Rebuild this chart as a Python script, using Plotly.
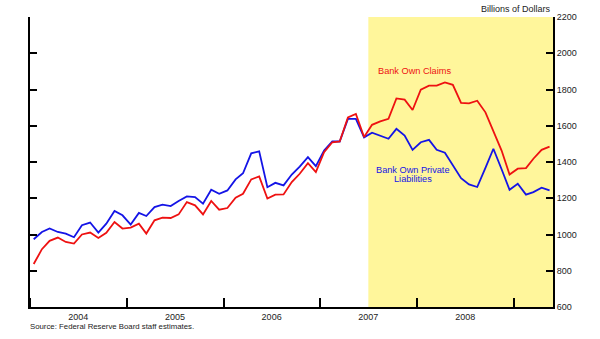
import pandas as pd
import plotly.graph_objects as go

# Monthly observations, Jan 2004 - May 2009 (billions of dollars)
start_month = "2004-01-01"
n_months = 65

bank_own_claims = [
    837, 919, 965, 983, 959, 950, 1000, 1011, 981, 1009, 1069, 1033,
    1038, 1060, 1005, 1078, 1093, 1091, 1111, 1179, 1161, 1111, 1185, 1137,
    1146, 1203, 1225, 1304, 1320, 1198, 1220, 1221, 1289, 1335, 1393, 1344,
    1454, 1509, 1513, 1646, 1665, 1538, 1605, 1624, 1638, 1751, 1744, 1687,
    1799, 1821, 1821, 1839, 1826, 1726, 1723, 1738, 1674, 1573, 1463, 1331,
    1363, 1366, 1418, 1467, 1485,
]

bank_own_private_liabilities = [
    974, 1014, 1033, 1014, 1005, 985, 1051, 1066, 1011, 1060, 1130, 1106,
    1055, 1119, 1102, 1151, 1165, 1157, 1185, 1210, 1206, 1170, 1247, 1225,
    1243, 1304, 1338, 1448, 1459, 1261, 1285, 1271, 1331, 1375, 1427, 1377,
    1463, 1513, 1513, 1638, 1638, 1536, 1562, 1546, 1528, 1583, 1546, 1467,
    1509, 1522, 1467, 1451, 1380, 1311, 1276, 1262, 1368, 1473, 1360, 1247,
    1280, 1220, 1234, 1258, 1243,
]

year_labels = ["2004", "2005", "2006", "2007", "2008"]
year_boundaries = ["2004-01-01", "2005-01-01", "2006-01-01", "2007-01-01",
                   "2008-01-01", "2009-01-01"]
year_midpoints = ["2004-07-01", "2005-07-01", "2006-07-01", "2007-07-01", "2008-07-01"]

y_ticks = [600, 800, 1000, 1200, 1400, 1600, 1800, 2000, 2200]

shade_start = "2007-07-01"
x_range = ["2004-01-01", "2009-05-28"]
y_range = [600, 2200]

dates = pd.date_range(start_month, periods=n_months, freq="MS") + pd.Timedelta(days=14)

RED = "#EE1111"
BLUE = "#1414E6"
FONT = "Liberation Sans, Arial, sans-serif"

fig = go.Figure()
fig.add_trace(go.Scatter(x=dates, y=bank_own_private_liabilities, mode="lines",
                         line=dict(color=BLUE, width=1.8), name="Bank Own Private Liabilities",
                         showlegend=False))
fig.add_trace(go.Scatter(x=dates, y=bank_own_claims, mode="lines",
                         line=dict(color=RED, width=1.8), name="Bank Own Claims",
                         showlegend=False))

fig.add_shape(type="rect", xref="x", yref="paper", x0=shade_start, x1=x_range[1],
              y0=0, y1=1, fillcolor="#FFF69B", line=dict(width=0), layer="below")

fig.update_layout(
    width=600, height=339,
    margin=dict(l=30, r=47, t=17, b=32),
    paper_bgcolor="white", plot_bgcolor="white",
    font=dict(family=FONT, size=9, color="#222222"),
    showlegend=False,
    xaxis=dict(
        type="date", range=x_range, showgrid=False, zeroline=False,
        showline=True, linecolor="black", linewidth=2,
        tickmode="array", tickvals=year_midpoints, ticktext=year_labels,
        ticks="", tickfont=dict(size=9, color="#222222"),
        minor=dict(tickmode="array", tickvals=year_boundaries, ticks="inside",
                   ticklen=9, tickwidth=2, tickcolor="black", showgrid=False),
    ),
    yaxis=dict(
        range=y_range, side="right", showgrid=False, zeroline=False,
        showline=True, linecolor="black", linewidth=2, mirror="ticks",
        tickmode="array", tickvals=y_ticks, ticks="inside", ticklen=7,
        tickwidth=2, tickcolor="black", tickfont=dict(size=9, color="#222222"),
    ),
)

fig.add_annotation(text="Billions of Dollars", xref="paper", yref="paper",
                   x=1.0, y=1.0, xanchor="right", yanchor="bottom", yshift=1,
                   showarrow=False, font=dict(size=9, color="#222222"))
fig.add_annotation(text="Bank Own Claims", xref="paper", yref="paper",
                   x=0.662, y=0.814, xanchor="left", yanchor="middle",
                   showarrow=False, font=dict(size=9.2, color=RED))
fig.add_annotation(text="Bank Own Private", xref="paper", yref="paper",
                   x=0.733, y=0.472, xanchor="center", yanchor="middle",
                   showarrow=False, font=dict(size=9.2, color=BLUE))
fig.add_annotation(text="Liabilities", xref="paper", yref="paper",
                   x=0.733, y=0.443, xanchor="center", yanchor="middle",
                   showarrow=False, font=dict(size=9.2, color=BLUE))
fig.add_annotation(text="Source: Federal Reserve Board staff estimates.",
                   xref="paper", yref="paper", x=0.0, y=-0.066, xshift=-2,
                   xanchor="left", yanchor="middle", showarrow=False,
                   font=dict(size=7.8, color="#222222"))

fig.write_html("out.html")
